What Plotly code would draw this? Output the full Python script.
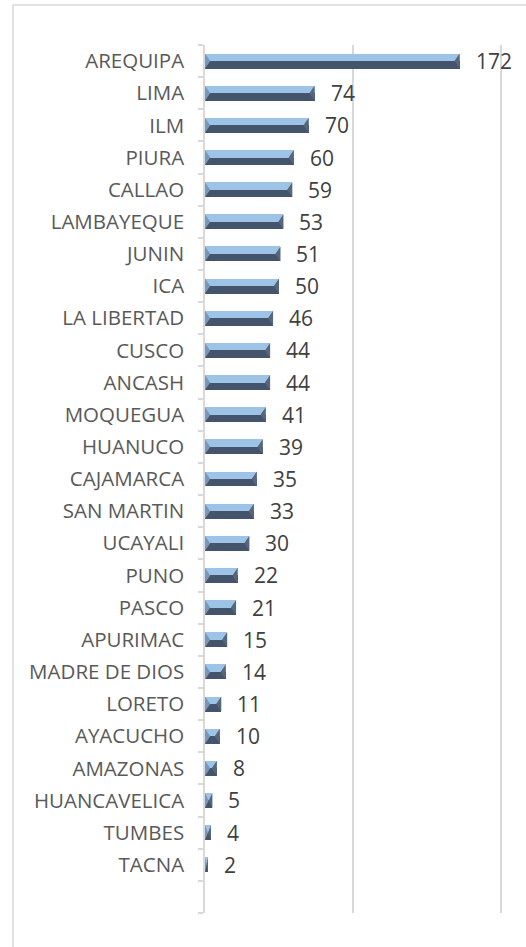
import plotly.graph_objects as go

regions = ["AREQUIPA", "LIMA", "ILM", "PIURA", "CALLAO", "LAMBAYEQUE", "JUNIN", "ICA",
           "LA LIBERTAD", "CUSCO", "ANCASH", "MOQUEGUA", "HUANUCO", "CAJAMARCA",
           "SAN MARTIN", "UCAYALI", "PUNO", "PASCO", "APURIMAC", "MADRE DE DIOS",
           "LORETO", "AYACUCHO", "AMAZONAS", "HUANCAVELICA", "TUMBES", "TACNA"]
values = [172, 74, 70, 60, 59, 53, 51, 50, 46, 44, 44, 41, 39, 35, 33, 30, 22, 21,
          15, 14, 11, 10, 8, 5, 4, 2]
x_ticks = [0, 100, 200]

LIGHT = "#9DC3E6"
DARK = "#44546A"
LEFT_FACE = "#7399C3"
RIGHT_FACE = "#56677C"
GRID = "#D9D9D9"
FONT = "Open Sans"

n = len(regions)
pos = list(range(n))          # category slots (0 = top)
H = 0.233                     # half bar thickness in slot units
BEV = 3.5                     # bevel depth in value units

fig = go.Figure()
# top (light) face
fig.add_trace(go.Bar(
    y=pos, x=values, orientation="h", width=H, offset=-H,
    marker=dict(color=LIGHT, line=dict(width=0)), hoverinfo="skip", showlegend=False,
))
# bottom (dark) face
fig.add_trace(go.Bar(
    y=pos, x=values, orientation="h", width=H, offset=0.0,
    marker=dict(color=DARK, line=dict(width=0)), showlegend=False,
))

# bevel end faces (triangles) derived from the values
lx, ly, rx, ry = [], [], [], []
for p, v in zip(pos, values):
    d = min(BEV, v / 2)
    lx += [0, 0, d, 0, None]
    ly += [p - H, p + H, p, p - H, None]
    rx += [v, v, v - d, v, None]
    ry += [p - H, p + H, p, p - H, None]
fig.add_trace(go.Scatter(x=lx, y=ly, mode="lines", fill="toself", fillcolor=LEFT_FACE,
                         line=dict(width=0), hoverinfo="skip", showlegend=False))
fig.add_trace(go.Scatter(x=rx, y=ry, mode="lines", fill="toself", fillcolor=RIGHT_FACE,
                         line=dict(width=0), hoverinfo="skip", showlegend=False))

annotations = [
    dict(x=v, y=p, xref="x", yref="y", text=str(v), showarrow=False,
         xanchor="left", yanchor="middle", xshift=14, yshift=0,
         font=dict(family=FONT, size=21, color="#404040"))
    for p, v in zip(pos, values)
]

fig.update_layout(
    width=526, height=947,
    margin=dict(l=205, r=22, t=45, b=34),
    paper_bgcolor="white", plot_bgcolor="white",
    barmode="overlay", bargap=0,
    annotations=annotations,
    shapes=[dict(type="rect", xref="paper", yref="paper",
                 x0=(13 - 205) / 299, x1=(540 - 205) / 299,
                 y0=-(50 / 868), y1=1 + 40 / 868,
                 line=dict(color=GRID, width=1.5), fillcolor="rgba(0,0,0,0)",
                 layer="below")],
)
fig.update_xaxes(range=[0, 202], tickvals=x_ticks, showticklabels=False,
                 showgrid=True, gridcolor=GRID, gridwidth=1.5, zeroline=False,
                 showline=False, ticks="")
fig.update_yaxes(range=[n + 0.5, -0.5], tickmode="array", tickvals=pos, ticktext=regions,
                 showline=True, linecolor=GRID, linewidth=1.5, zeroline=False,
                 ticks="", showgrid=False, ticklabelstandoff=15,
                 minor=dict(tickmode="array", tickvals=[p - 0.5 for p in pos] + [n - 0.5, n + 0.5],
                            ticks="outside", ticklen=5, tickcolor=GRID, tickwidth=1.5,
                            showgrid=False),
                 tickfont=dict(family=FONT, size=20.5, color="#595959"))

fig.write_html("out.html", config={"displayModeBar": False},
               post_script="document.body.style.margin='0';")
